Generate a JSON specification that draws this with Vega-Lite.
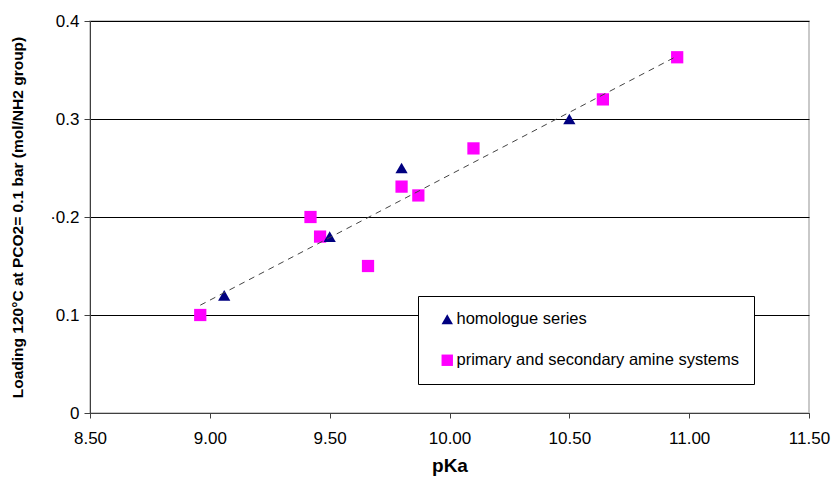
{
  "$schema": "https://vega.github.io/schema/vega-lite/v6.json",
  "width": 719,
  "height": 392,
  "autosize": "none",
  "padding": {"left": 90, "top": 21, "right": 24, "bottom": 70},
  "background": "white",
  "config": {
    "font": "Liberation Sans",
    "view": {"stroke": "#b8b8b8", "strokeWidth": 1.5},
    "axis": {"labelFont": "Liberation Sans", "titleFont": "Liberation Sans", "labelColor": "#000", "titleColor": "#000", "domainColor": "#404040", "tickColor": "#404040"}
  },
  "datasets": {
    "points": [
      {"pKa": 8.96, "loading": 0.100, "series": "primary and secondary amine systems"},
      {"pKa": 9.42, "loading": 0.200, "series": "primary and secondary amine systems"},
      {"pKa": 9.46, "loading": 0.180, "series": "primary and secondary amine systems"},
      {"pKa": 9.66, "loading": 0.150, "series": "primary and secondary amine systems"},
      {"pKa": 9.80, "loading": 0.231, "series": "primary and secondary amine systems"},
      {"pKa": 9.87, "loading": 0.222, "series": "primary and secondary amine systems"},
      {"pKa": 10.10, "loading": 0.270, "series": "primary and secondary amine systems"},
      {"pKa": 10.64, "loading": 0.320, "series": "primary and secondary amine systems"},
      {"pKa": 10.95, "loading": 0.363, "series": "primary and secondary amine systems"},
      {"pKa": 9.06, "loading": 0.120, "series": "homologue series"},
      {"pKa": 9.50, "loading": 0.180, "series": "homologue series"},
      {"pKa": 9.80, "loading": 0.250, "series": "homologue series"},
      {"pKa": 10.50, "loading": 0.300, "series": "homologue series"}
    ],
    "trend": [
      {"pKa": 8.96, "loading": 0.110},
      {"pKa": 10.94, "loading": 0.363}
    ]
  },
  "layer": [
    {
      "data": {"name": "points"},
      "mark": {"type": "point", "filled": true, "opacity": 1, "size": 150, "strokeWidth": 0},
      "encoding": {
        "x": {
          "field": "pKa", "type": "quantitative",
          "scale": {"domain": [8.5, 11.5], "nice": false, "zero": false},
          "axis": {"values": [8.5, 9, 9.5, 10, 10.5, 11, 11.5], "format": ".2f", "grid": false, "title": "pKa",
            "titleFontSize": 19, "titleFontWeight": "bold", "titlePadding": 10,
            "labelFontSize": 17, "tickSize": 5, "labelPadding": 12, "labelFlush": false}
        },
        "y": {
          "field": "loading", "type": "quantitative",
          "scale": {"domain": [0, 0.4], "nice": false},
          "axis": {"values": [0, 0.1, 0.2, 0.3, 0.4], "format": "~g",
            "labelExpr": "datum.value == 0.2 ? '·0.2' : datum.label",
            "grid": true, "gridColor": "#000", "gridWidth": 1,
            "title": "Loading 120°C at PCO2= 0.1 bar (mol/NH2 group)",
            "titleFontSize": 15.5, "titleFontWeight": "bold", "titlePadding": 24,
            "labelFontSize": 17, "tickSize": 6, "labelPadding": 5}
        },
        "shape": {
          "field": "series", "type": "nominal",
          "scale": {"domain": ["homologue series", "primary and secondary amine systems"], "range": ["triangle-up", "square"]},
          "legend": {"title": null, "orient": "none", "legendX": 328, "legendY": 275,
            "strokeColor": "#000", "fillColor": "#fff", "padding": 15, "rowPadding": 24,
            "labelFontSize": 16.5, "labelColor": "#000", "labelOffset": 1, "symbolOffset": 6, "labelLimit": 400, "symbolSize": 130}
        },
        "color": {
          "field": "series", "type": "nominal",
          "scale": {"domain": ["homologue series", "primary and secondary amine systems"], "range": ["#000080", "#FF00FF"]},
          "legend": {"title": null, "orient": "none", "legendX": 328, "legendY": 275,
            "strokeColor": "#000", "fillColor": "#fff", "padding": 15, "rowPadding": 24,
            "labelFontSize": 16.5, "labelColor": "#000", "labelOffset": 1, "symbolOffset": 6, "labelLimit": 400, "symbolSize": 130}
        }
      }
    },
    {
      "data": {"name": "trend"},
      "mark": {"type": "line", "color": "#444", "strokeWidth": 1, "strokeDash": [6, 5]},
      "encoding": {
        "x": {"field": "pKa", "type": "quantitative"},
        "y": {"field": "loading", "type": "quantitative"}
      }
    }
  ]
}
